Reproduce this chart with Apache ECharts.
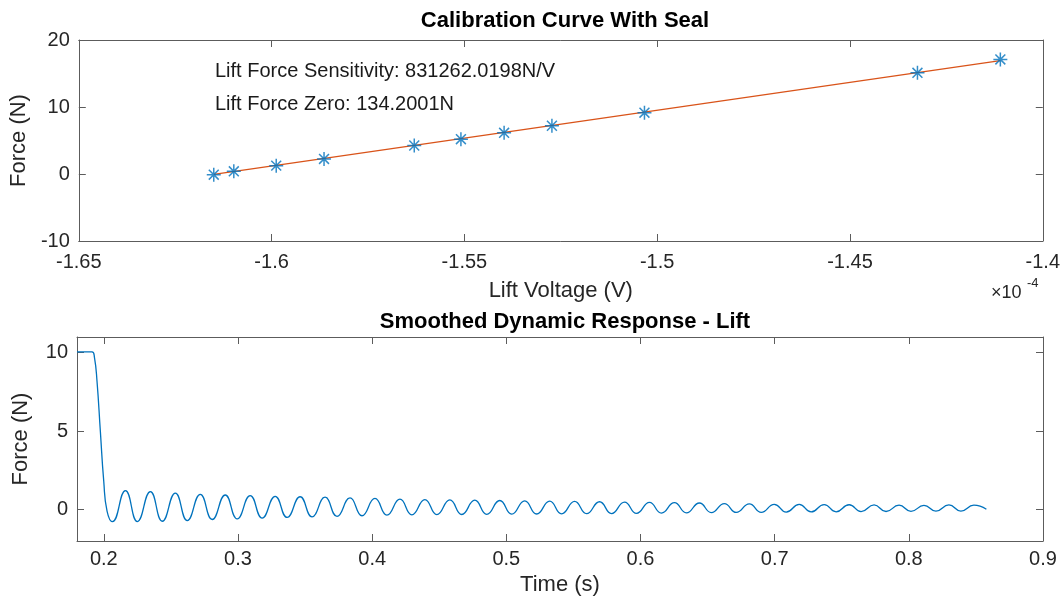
<!DOCTYPE html>
<html>
<head>
<meta charset="utf-8">
<title>Calibration Curve With Seal</title>
<script src="https://cdn.jsdelivr.net/npm/echarts@6/dist/echarts.min.js"></script>
<style>
  html, body { margin: 0; padding: 0; background: #fff; }
  #chart { width: 1063px; height: 606px; }
</style>
</head>
<body>
<div id="chart"></div>
<script>
// calibration points (voltage in units of 1e-4 V)
var calVolt = [-1.615, -1.6098, -1.5988, -1.5864, -1.563, -1.5509, -1.5397, -1.5273, -1.5033, -1.4325, -1.411];
var calForce = [-0.1, 0.4, 1.25, 2.25, 4.25, 5.2, 6.15, 7.2, 9.15, 15.1, 17.1];
// fitted line end points
var fitVolt = [-1.615, -1.411];
var fitForce = [-0.05, 16.91];

// dynamic response: plateau and drop
var dropTime = [0.18, 0.1912, 0.1930, 0.1949, 0.1974, 0.1999, 0.2024];
var dropForce = [10.05, 10.05, 9.7, 8.2, 5.0, 1.85, -0.1];
// troughs and peaks of the ringing
var troughTime = [0.2064, 0.2250, 0.2436, 0.2622, 0.2808, 0.2994, 0.3180, 0.3366, 0.3552, 0.3738,
  0.3924, 0.4110, 0.4296, 0.4482, 0.4668, 0.4854, 0.5040, 0.5226, 0.5412, 0.5598,
  0.5784, 0.5970, 0.6156, 0.6342, 0.6528, 0.6714, 0.6900, 0.7086, 0.7272, 0.7458,
  0.7644, 0.7830, 0.8016, 0.8202, 0.8388];
var troughForce = [-0.77, -0.76, -0.74, -0.70, -0.63, -0.59, -0.54, -0.50, -0.46, -0.43,
  -0.39, -0.35, -0.33, -0.32, -0.31, -0.30, -0.29, -0.28, -0.27, -0.26,
  -0.25, -0.24, -0.22, -0.21, -0.19, -0.18, -0.17, -0.16, -0.15, -0.14,
  -0.13, -0.12, -0.11, -0.10, -0.09];
var peakTime = [0.2161, 0.2347, 0.2533, 0.2719, 0.2905, 0.3091, 0.3277, 0.3463, 0.3649, 0.3835,
  0.4021, 0.4207, 0.4393, 0.4579, 0.4765, 0.4951, 0.5137, 0.5323, 0.5509, 0.5695,
  0.5881, 0.6067, 0.6253, 0.6439, 0.6625, 0.6811, 0.6997, 0.7183, 0.7369, 0.7555,
  0.7741, 0.7927, 0.8113, 0.8299, 0.8485];
var peakForce = [1.21, 1.15, 1.05, 0.97, 0.93, 0.89, 0.85, 0.82, 0.79, 0.75,
  0.71, 0.67, 0.64, 0.62, 0.60, 0.58, 0.56, 0.54, 0.52, 0.50,
  0.48, 0.46, 0.44, 0.42, 0.38, 0.36, 0.34, 0.33, 0.32, 0.31,
  0.30, 0.28, 0.27, 0.30, 0.28];
var endTime = 0.8578, endForce = 0.02;

// tick labels
var voltTicks = [-1.65, -1.6, -1.55, -1.5, -1.45, -1.4];
var forceTicksTop = [-10, 0, 10, 20];
var timeTicks = [0.2, 0.3, 0.4, 0.5, 0.6, 0.7, 0.8, 0.9];
var forceTicksBottom = [0, 5, 10];

var FONT = 'Liberation Sans, Arial, Helvetica, sans-serif',
  AXIS_COLOR = '#5c5c5c',
  TEXT_COLOR = '#262626',
  BLUE = '#0072BD',
  ORANGE = '#D95319';

function buildResponse() {
  var pts = [];
  dropTime.forEach(function (t, i) { pts.push([t, dropForce[i]]); });
  troughTime.forEach(function (t, i) {
    pts.push([t, troughForce[i]]);
    pts.push([peakTime[i], peakForce[i]]);
  });
  pts.push([endTime, endForce]);
  return pts;
}

function boxAxis(opts) {
  // one side of a MATLAB-like boxed axes, ticks pointing inward
  var showLabel = !!opts.label;
  return {
    type: 'value',
    gridIndex: opts.grid,
    position: opts.position,
    min: opts.min,
    max: opts.max,
    name: opts.name || '',
    nameLocation: 'middle',
    nameGap: opts.nameGap || 0,
    nameRotate: opts.nameRotate || 0,
    nameTextStyle: { fontFamily: FONT, fontSize: 22, color: TEXT_COLOR },
    axisLine: { show: true, onZero: false, lineStyle: { color: AXIS_COLOR, width: 1 } },
    axisTick: { show: true, inside: true, length: 7, customValues: opts.ticks, lineStyle: { color: AXIS_COLOR } },
    axisLabel: {
      show: showLabel,
      customValues: opts.ticks,
      margin: opts.margin || 9,
      fontFamily: FONT,
      fontSize: 20,
      color: TEXT_COLOR
    },
    splitLine: { show: false }
  };
}

// MATLAB '*' marker: plus and cross overlaid
var starPath = 'path://M0,-10L0,10M-10,0L10,0M-7.07,-7.07L7.07,7.07M-7.07,7.07L7.07,-7.07';

var myChart = echarts.init(document.getElementById('chart'), null, { renderer: 'canvas' });
var option = {
  animation: false,
  backgroundColor: '#fff',
  title: [{
    text: 'Calibration Curve With Seal',
    left: 560, top: 5, textAlign: 'center',
    textStyle: { fontFamily: FONT, fontSize: 22, fontWeight: 'bold', color: '#000' }
  }, {
    text: 'Smoothed Dynamic Response - Lift',
    left: 560, top: 306, textAlign: 'center',
    textStyle: { fontFamily: FONT, fontSize: 22, fontWeight: 'bold', color: '#000' }
  }],
  grid: [
    { left: 77, right: 20, top: 40, height: 201 },
    { left: 77, right: 20, top: 337, bottom: 65 }
  ],
  xAxis: [
    boxAxis({ grid: 0, position: 'bottom', min: -1.65, max: -1.4, ticks: voltTicks, label: true, margin: 11,
      name: 'Lift Voltage (V)', nameGap: 39 }),
    boxAxis({ grid: 0, position: 'top', min: -1.65, max: -1.4, ticks: voltTicks }),
    boxAxis({ grid: 1, position: 'bottom', min: 0.18, max: 0.9, ticks: timeTicks, label: true, margin: 8,
      name: 'Time (s)', nameGap: 33 }),
    boxAxis({ grid: 1, position: 'top', min: 0.18, max: 0.9, ticks: timeTicks })
  ],
  yAxis: [
    boxAxis({ grid: 0, position: 'left', min: -10, max: 20, ticks: forceTicksTop, label: true,
      name: 'Force (N)', nameGap: 45, nameRotate: 90 }),
    boxAxis({ grid: 0, position: 'right', min: -10, max: 20, ticks: forceTicksTop }),
    boxAxis({ grid: 1, position: 'left', min: -2, max: 11, ticks: forceTicksBottom, label: true,
      name: 'Force (N)', nameGap: 45, nameRotate: 90 }),
    boxAxis({ grid: 1, position: 'right', min: -2, max: 11, ticks: forceTicksBottom })
  ],
  graphic: [
    { type: 'text', left: 215, top: 61, style: { text: 'Lift Force Sensitivity: 831262.0198N/V', font: '20px ' + FONT, fill: '#1a1a1a' } },
    { type: 'text', left: 215, top: 94, style: { text: 'Lift Force Zero: 134.2001N', font: '20px ' + FONT, fill: '#1a1a1a' } },
    { type: 'text', left: 991, top: 284, style: { text: '×10', font: '18px ' + FONT, fill: TEXT_COLOR } },
    { type: 'text', left: 1027, top: 277, style: { text: '-4', font: '13px ' + FONT, fill: TEXT_COLOR } }
  ],
  series: [{
    name: 'fit',
    type: 'line',
    xAxisIndex: 0,
    yAxisIndex: 0,
    data: fitVolt.map(function (v, i) { return [v, fitForce[i]]; }),
    showSymbol: false,
    lineStyle: { color: ORANGE, width: 1.3 },
    z: 2
  }, {
    name: 'calibration',
    type: 'scatter',
    xAxisIndex: 0,
    yAxisIndex: 0,
    data: calVolt.map(function (v, i) { return [v, calForce[i]]; }),
    symbol: starPath,
    symbolSize: 14,
    itemStyle: { color: 'rgba(0,0,0,0)', borderColor: BLUE, borderWidth: 1.5 },
    z: 3
  }, {
    name: 'response',
    type: 'line',
    xAxisIndex: 2,
    yAxisIndex: 2,
    data: buildResponse(),
    showSymbol: false,
    smooth: 0.5,
    lineStyle: { color: BLUE, width: 1.3 }
  }]
};
myChart.setOption(option, true);
window.addEventListener('resize', function () {
  myChart.resize();
});
</script>
</body>
</html>
